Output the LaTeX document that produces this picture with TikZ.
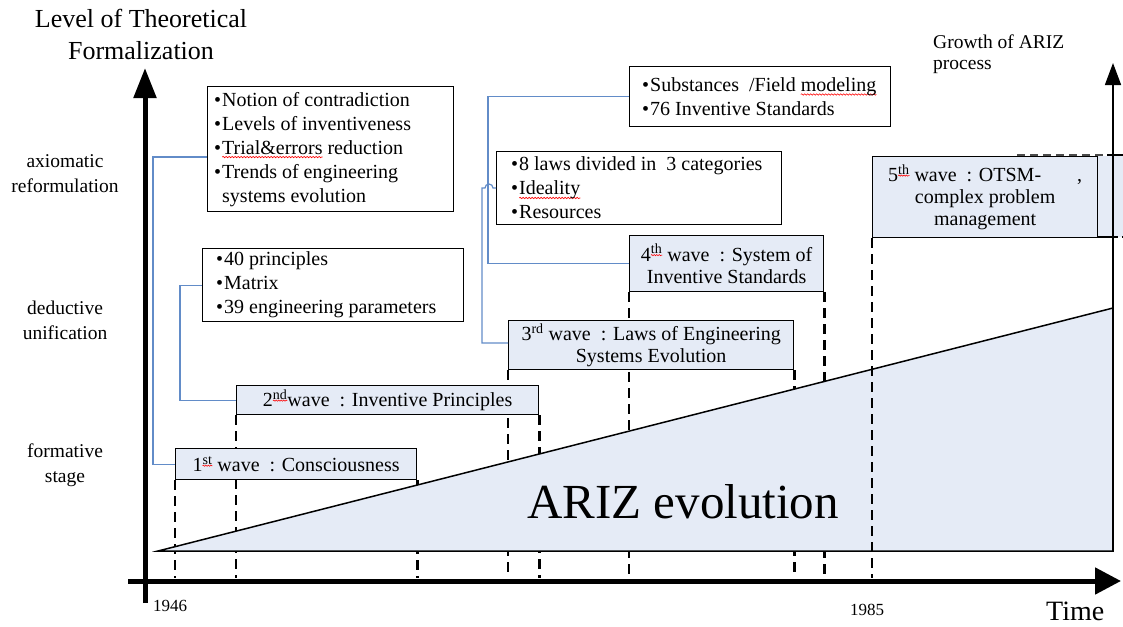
\documentclass[tikz,border=0pt]{standalone}
\usepackage{fontspec}
\setmainfont{Liberation Serif}
\usetikzlibrary{arrows.meta,decorations.pathmorphing}
\definecolor{wavefill}{RGB}{229,235,246}
\definecolor{connblue}{RGB}{98,140,200}
\pgfdeclarelayer{dashlayer}
\pgfdeclarelayer{trilayer}
\pgfsetlayers{dashlayer,trilayer,main}
\newlength\sqlen
\newcommand\wavyword[1]{\settowidth\sqlen{#1}\rlap{\tikz[overlay,baseline=0pt]\draw[red,line width=0.6pt,decorate,decoration={snake,amplitude=0.7pt,segment length=3pt}] (0pt,-3pt) -- (\sqlen,-3pt);}#1}
\newcommand\wavysup[1]{\settowidth\sqlen{\textsuperscript{#1}}\rlap{\tikz[overlay,baseline=0pt]\draw[red,line width=0.6pt,decorate,decoration={snake,amplitude=0.6pt,segment length=2.5pt}] (0pt,6pt) -- (\sqlen,6pt);}\textsuperscript{#1}}
\newcommand\bul{\makebox[8pt][l]{•}}
\begin{document}
\begin{tikzpicture}[x=1pt,y=-1pt,
  bulletbox/.style={draw,line width=1.3pt,fill=white,inner sep=0pt,anchor=north west},
  bullettext/.style={inner sep=0pt,anchor=west,align=left,font=\fontsize{20}{24}\selectfont},
  wavebox/.style={draw,line width=1.3pt,fill=wavefill,inner sep=0pt,anchor=north west,align=center,font=\fontsize{20}{22}\selectfont},
  conn/.style={draw=connblue,line width=1.2pt},
  vdash/.style={line width=2.6pt,dash pattern=on 10pt off 6pt},
  lab/.style={align=center,font=\fontsize{19.5}{25}\selectfont,inner sep=0pt}
]
\path[use as bounding box] (0,0) rectangle (1123,626);

% texts
\node[lab,font=\fontsize{26}{32}\selectfont] (title) at (141,34) {Level of Theoretical\\Formalization};
\node[lab] (lax) at (65,174) {axiomatic\\reformulation};
\node[lab] (lded) at (65,320) {deductive\\unification};
\node[lab] (lform) at (65,465) {formative\\stage};
\node[lab,align=left,anchor=north west,font=\fontsize{19.5}{21}\selectfont] (growth) at (933,35) {Growth of ARIZ\\process};
\node[inner sep=0pt,anchor=base west,font=\fontsize{17}{17}\selectfont] (y1946) at (153,611) {1946};
\node[inner sep=0pt,anchor=base west,font=\fontsize{17}{17}\selectfont] (y1985) at (850,615) {1985};
\node[inner sep=0pt,anchor=base west,font=\fontsize{28}{28}\selectfont] (time) at (1046,620) {Time};

% bullet boxes
\node[bulletbox,minimum width=246pt,minimum height=125pt] (b1) at (207,86) {};
\node[bullettext] (b1t) at ([xshift=7pt]b1.west) {\bul Notion of contradiction\\\bul Levels of inventiveness\\\bul \wavyword{Trial\&errors} reduction\\\bul Trends of engineering\\\hspace*{8pt}systems evolution};
\node[bulletbox,minimum width=261pt,minimum height=73pt] (b2) at (202,248) {};
\node[bullettext] (b2t) at ([xshift=14pt]b2.west) {\bul 40 principles\\\bul Matrix\\\bul 39 engineering parameters};
\node[bulletbox,minimum width=285pt,minimum height=73pt] (b3) at (496,151) {};
\node[bullettext] (b3t) at ([xshift=15pt]b3.west) {\bul 8 laws divided in\ \ 3\ categories\\\bul \wavyword{Ideality}\\\bul Resources};
\node[bulletbox,minimum width=261pt,minimum height=60pt] (b4) at (629,66) {};
\node[bullettext] (b4t) at ([xshift=13pt]b4.west) {\bul Substances\ \ /Field \wavyword{modeling}\\\bul 76 Inventive Standards};

% wave boxes
\node[wavebox,minimum width=241pt,minimum height=31pt] (w1) at (175,448) {1\wavysup{st} wave\ \ : Consciousness};
\node[wavebox,minimum width=302pt,minimum height=29pt] (w2) at (236,385) {2\wavysup{nd}wave\ \ : Inventive Principles};
\node[wavebox,minimum width=285pt,minimum height=49pt] (w3) at (508,320) {3\textsuperscript{rd} wave\ \ : Laws of Engineering\\Systems Evolution};
\node[wavebox,minimum width=194pt,minimum height=56pt] (w4) at (629,235) {4\wavysup{th} wave\ \ : System of\\Inventive Standards};
\node[wavebox,minimum width=225pt,minimum height=81pt] (w5) at (872,156) {5\wavysup{th} wave\ \ : OTSM-\hspace*{36pt},\\complex problem\\management};

% dashed drop lines (behind triangle)
\begin{pgfonlayer}{dashlayer}
\foreach \n/\a in {w1/south west,w1/south east,w2/south west,w2/south east,w3/south west,w3/south east,w4/south west,w4/south east}
  \draw[vdash] (\n.\a) -- (\n.\a |- 0,578);
\end{pgfonlayer}

% triangle and right strip
\begin{pgfonlayer}{trilayer}
\filldraw[fill=wavefill,draw=black,line width=1.5pt] (158,551) -- (1113,308) -- (1113,551) -- cycle;
\draw[vdash] (w5.south west) -- (w5.south west |- 0,578);
\fill[wavefill] (1017,156) rectangle (1123,237);
\draw[line width=1.3pt,dash pattern=on 8pt off 5pt,black!70] (1017,155) -- (1107,155);
\draw[line width=1.5pt] (1107,155) -- (1123,155);
\draw[line width=1.5pt] (1097,237) -- (1113,237);
\draw[line width=1.5pt,dash pattern=on 5pt off 4pt] (1113,237) -- (1123,237);
\end{pgfonlayer}

\node[inner sep=0pt,anchor=base west,font=\fontsize{49}{49}\selectfont] (ariz) at (527,518) {ARIZ evolution};

% connectors
\draw[conn] (b1.west |- 0,157) -- (153,157) |- (w1.west);
\draw[conn] (b2.west) -- (180,0 |- b2.west) |- (w2.west);
\draw[conn] (b4.west) -- (488,0 |- b4.west) |- (w4.west);
\draw[conn] (b3.west |- 0,188) -- (493,188) arc[start angle=0,end angle=-180,radius=4] -- (482,188) |- (w3.west |- 0,343);

% axes
\draw[line width=5pt,-{Triangle[length=30pt,width=22pt]}] (145,603) -- (145,68);
\draw[line width=5pt,-{Triangle[length=26pt,width=26pt]}] (128,581) -- (1121,581);
\draw[line width=1.5pt,-{Triangle[length=22pt,width=16pt]}] (1113,551) -- (1113,63);
\end{tikzpicture}
\end{document}
